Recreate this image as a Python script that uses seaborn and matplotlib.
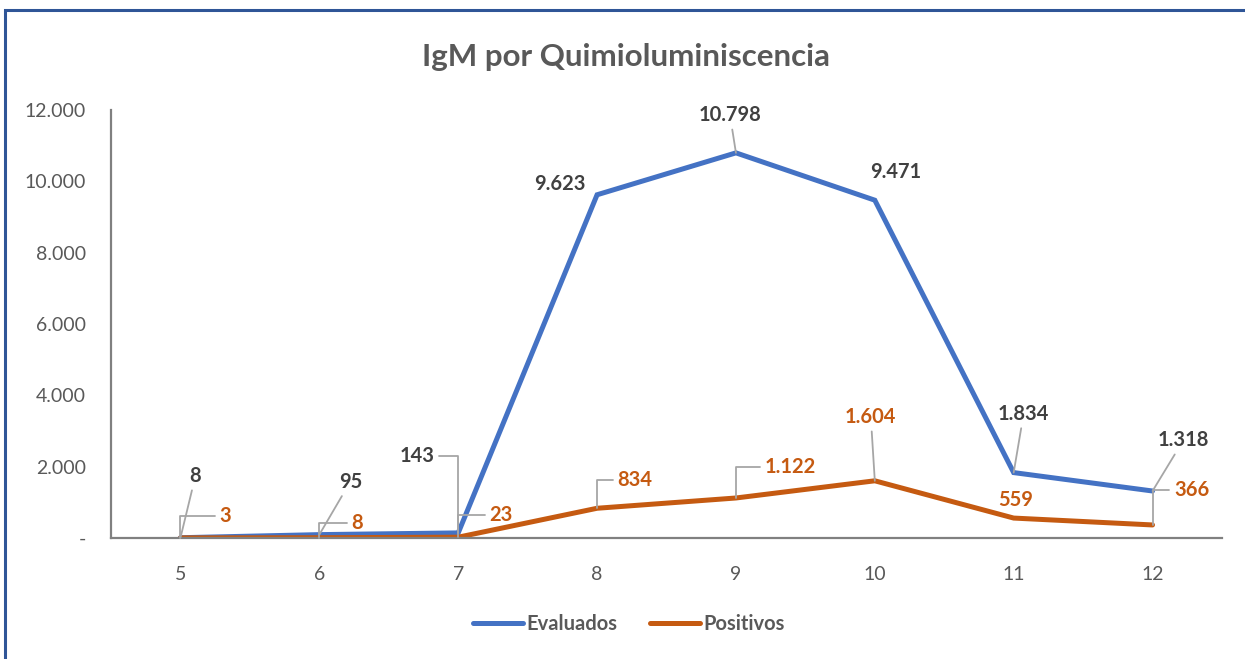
import matplotlib
matplotlib.use("Agg")
import matplotlib.pyplot as plt
import seaborn as sns
import pandas as pd
from matplotlib.patches import Rectangle
from matplotlib.lines import Line2D
from matplotlib.ticker import FuncFormatter

# ---- data ----
months = [5, 6, 7, 8, 9, 10, 11, 12]
evaluados = [8, 95, 143, 9623, 10798, 9471, 1834, 1318]
positivos = [3, 8, 23, 834, 1122, 1604, 559, 366]
series_names = ["Evaluados", "Positivos"]
title = "IgM por Quimioluminiscencia"
yticks = [0, 2000, 4000, 6000, 8000, 10000, 12000]

def fmt(v):
    return "-" if v == 0 else f"{int(v):,}".replace(",", ".")

df = pd.DataFrame({
    "mes": months * 2,
    "valor": evaluados + positivos,
    "serie": [series_names[0]] * len(months) + [series_names[1]] * len(months),
})
df["pos"] = df["mes"].map({m: i for i, m in enumerate(months)})

BLUE = "#4472C4"
ORANGE = "#C55A11"
GREY = "#595959"
DARK = "#404040"
LEADER = "#A6A6A6"

sns.set_theme(style="white")
plt.rcParams["font.family"] = ["Lato", "DejaVu Sans"]

fig = plt.figure(figsize=(12.45, 6.59), dpi=100)
ax = fig.add_axes([0.0892, 0.1836, 0.8923, 0.6495])

sns.lineplot(data=df, x="pos", y="valor", hue="serie", palette=[BLUE, ORANGE],
             linewidth=3.6, ax=ax, legend=False, solid_capstyle="round",
             solid_joinstyle="miter")

ax.set_xlim(-0.5, len(months) - 0.5)
ax.set_ylim(0, 12000)
ax.set_xticks(range(len(months)))
ax.set_xticklabels([str(m) for m in months])
ax.set_yticks(yticks)
ax.yaxis.set_major_formatter(FuncFormatter(lambda v, p: fmt(v)))
ax.tick_params(axis="both", length=0, labelsize=14, colors=GREY)
ax.tick_params(axis="x", pad=20)
ax.tick_params(axis="y", pad=18)
ax.set_xlabel("")
ax.set_ylabel("")
for s in ["top", "right"]:
    ax.spines[s].set_visible(False)
for s in ["left", "bottom"]:
    ax.spines[s].set_color("#808080")
    ax.spines[s].set_linewidth(1.6)
ax.grid(False)

# label offsets in pixels (dx right, dy down) and leader style
e_off = [(15, -62), (31, -53), (-41, -77), (-37, -11), (-6, -38), (21, -28), (10, -59), (31, -51)]
e_lead = ["straight", "straight", "angleR", None, "straight", None, "straight", "straight"]
p_off = [(45, -22), (38, -15), (43, -22), (38, -28), (54, -31), (-4, -64), (2, -18), (39, -35)]
p_lead = ["angle", "angle", "angle", "angle", "angle", "straight", None, "angle"]

k = 0.72
def label(i, v, off, lead, color):
    ap = None
    if lead == "straight":
        ap = dict(arrowstyle="-", color=LEADER, lw=1.3, shrinkA=1, shrinkB=0)
    elif lead == "angle":
        ap = dict(arrowstyle="-", color=LEADER, lw=1.3, shrinkA=1, shrinkB=0,
                  connectionstyle="angle,angleA=0,angleB=90,rad=0", relpos=(0, 0.5))
    elif lead == "angleR":
        ap = dict(arrowstyle="-", color=LEADER, lw=1.3, shrinkA=1, shrinkB=0,
                  connectionstyle="angle,angleA=0,angleB=90,rad=0", relpos=(1, 0.5))
    ax.annotate(fmt(v), xy=(i, v), xytext=(off[0] * k, -off[1] * k),
                textcoords="offset points", ha="center", va="center",
                fontsize=14.5, fontweight="bold", color=color, arrowprops=ap,
                zorder=5)

for i, v in enumerate(evaluados):
    label(i, v, e_off[i], e_lead[i], DARK)
for i, v in enumerate(positivos):
    label(i, v, p_off[i], p_lead[i], ORANGE)

fig.text(0.503, 0.913, title, ha="center", va="center", fontsize=22.5,
         fontweight="bold", color=GREY)

handles = [Line2D([0], [0], color=BLUE, lw=3.6, solid_capstyle="round"),
           Line2D([0], [0], color=ORANGE, lw=3.6, solid_capstyle="round")]
leg = fig.legend(handles, series_names, loc="center", bbox_to_anchor=(0.505, 0.053),
                 ncol=2, frameon=False, handlelength=2.5, handletextpad=0.15,
                 columnspacing=1.6, prop={"size": 14.5, "weight": "bold"})
for t in leg.get_texts():
    t.set_color(GREY)

fig.patches.append(Rectangle((0.0043, -0.05), 1.2, 0.9848 + 0.05,
                             transform=fig.transFigure, fill=False,
                             edgecolor="#2F5597", linewidth=2.2))

fig.savefig("out.png", dpi=100)
